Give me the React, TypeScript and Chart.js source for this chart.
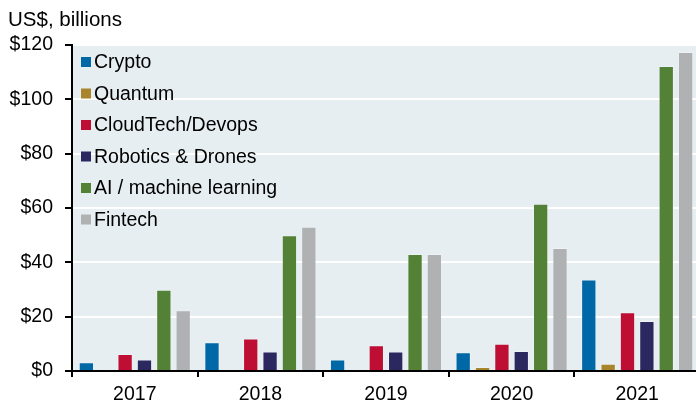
import React, { useEffect, useRef } from "react";
import { Chart, registerables } from "chart.js";

Chart.register(...registerables);

const years = ["2017", "2018", "2019", "2020", "2021"];
const crypto = [3.2, 10.6, 4.2, 6.9, 33.7];
const quantum = [0.3, 0.3, 0.3, 1.5, 2.7];
const cloudTech = [6.3, 12.0, 9.5, 10.0, 21.6];
const robotics = [4.2, 7.2, 7.2, 7.4, 18.4];
const aiML = [29.9, 50.0, 43.1, 61.6, 112.3];
const fintech = [22.4, 53.1, 43.1, 45.3, 117.4];

const seriesNames = [
  "Crypto",
  "Quantum",
  "CloudTech/Devops",
  "Robotics & Drones",
  "AI / machine learning",
  "Fintech",
];
const seriesColors = ["#0068a6", "#a8842a", "#be0e34", "#2b2860", "#538135", "#b0b1b3"];
const yTicks = [0, 20, 40, 60, 80, 100, 120];
const subtitle = "US$, billions";

const FONT = "'Liberation Sans', Arial, sans-serif";

const bgPlugin = {
  id: "bg",
  beforeDraw(chart: any) {
    const { ctx, chartArea } = chart;
    ctx.save();
    ctx.fillStyle = "#e6eef2";
    ctx.fillRect(chartArea.left, chartArea.top + 1, chartArea.right - chartArea.left, chartArea.bottom - chartArea.top);
    ctx.restore();
  },
  afterDraw(chart: any) {
    const { ctx, chartArea } = chart;
    ctx.save();
    ctx.fillStyle = "#000";
    ctx.font = `20.5px ${FONT}`;
    ctx.textBaseline = "alphabetic";
    ctx.textAlign = "left";
    ctx.fillText(subtitle, 8, 26);
    // legend
    ctx.font = `19.5px ${FONT}`;
    const x0 = chartArea.left + 9;
    const rowY = [62, 93.5, 125, 156.5, 188, 219.5];
    seriesNames.forEach((name, i) => {
      const cy = rowY[i];
      ctx.fillStyle = seriesColors[i];
      ctx.fillRect(x0, cy - 5, 10, 10);
      ctx.fillStyle = "#000";
      ctx.textBaseline = "middle";
      ctx.fillText(name, x0 + 13, cy + 1);
    });
    ctx.restore();
  },
};

export default function App() {
  const ref = useRef<HTMLCanvasElement>(null);
  useEffect(() => {
    if (!ref.current) return;
    const data = [crypto, quantum, cloudTech, robotics, aiML, fintech];
    const chart = new Chart(ref.current, {
      type: "bar",
      data: {
        labels: years,
        datasets: data.map((d, i) => ({
          label: seriesNames[i],
          data: d,
          backgroundColor: seriesColors[i],
          borderColor: "rgba(255,255,255,0.25)",
          borderWidth: 1,
          categoryPercentage: 0.925,
          barPercentage: 0.79,
        })),
      },
      options: {
        responsive: false,
        animation: false,
        layout: { padding: { top: 45, left: 0, right: 0, bottom: 0 } },
        plugins: { legend: { display: false }, tooltip: { enabled: false }, title: { display: false } },
        scales: {
          x: {
            offset: true,
            grid: {
              offset: true,
              drawOnChartArea: false,
              color: "#000",
              tickColor: "#000",
              tickLength: 6,
              lineWidth: 2,
            },
            border: { color: "#000", width: 2 },
            ticks: { color: "#000", font: { family: FONT, size: 19.5 }, padding: 6 },
            afterFit(scale: any) {
              scale.height = 36;
            },
          },
          y: {
            min: 0,
            max: 120,
            afterBuildTicks(scale: any) {
              scale.ticks = yTicks.map((v) => ({ value: v }));
            },
            grid: {
              color: "#ffffff",
              lineWidth: 2,
              tickColor: "#000",
              tickLength: 7,
            },
            border: { color: "#000", width: 2 },
            ticks: {
              color: "#000",
              font: { family: FONT, size: 19.5 },
              padding: 12,
              callback: (v: any) => "$" + v,
            },
            afterFit(scale: any) {
              scale.width = 72;
            },
          },
        },
      },
      plugins: [bgPlugin],
    });
    return () => chart.destroy();
  }, []);
  return (
    <div style={{ position: "fixed", left: 0, top: 0, width: 696, height: 407, overflow: "hidden", background: "#fff" }}>
      <canvas ref={ref} width={700} height={407} style={{ display: "block", width: 700, height: 407 }} />
    </div>
  );
}
